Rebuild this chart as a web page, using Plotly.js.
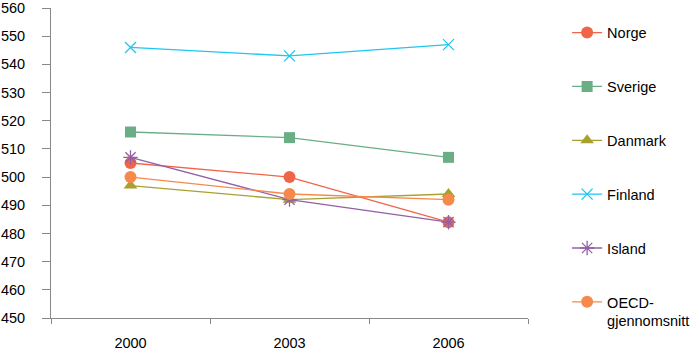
<!DOCTYPE html>
<html>
<head>
<meta charset="utf-8">
<script src="https://cdn.plot.ly/plotly-3.0.1.min.js"></script>
<style>html,body{margin:0;padding:0;background:#fff;}#chart{width:700px;height:357px;}</style>
</head>
<body>
<div id="chart"></div>
<script>
const years = ["2000", "2003", "2006"];
const seriesNames = ["Norge", "Sverige", "Danmark", "Finland", "Island", "OECD-<br>gjennomsnitt"];
const norge = [505, 500, 484];
const sverige = [516, 514, 507];
const danmark = [497, 492, 494];
const finland = [546, 543, 547];
const island = [507, 492, 484];
const oecd = [500, 494, 492];
const yTicks = [450, 460, 470, 480, 490, 500, 510, 520, 530, 540, 550, 560];

const values = [norge, sverige, danmark, finland, island, oecd];
const colors = ["#F0654A", "#6AAE86", "#A9A032", "#1EC6F2", "#945FA4", "#F6894C"];
const symbols = ["circle", "square", "triangle-up", "x-thin-open", "asterisk-open", "circle"];
const sizes = [12, 11, 12, 11, 12, 12];

const traces = values.map((v, i) => ({
  x: years,
  y: v,
  name: seriesNames[i],
  type: "scatter",
  mode: "lines+markers",
  legendgroup: "g" + i,
  line: {color: colors[i], width: 1.3},
  marker: {symbol: symbols[i], size: sizes[i], color: colors[i], line: {color: colors[i], width: (i === 3 || i === 4) ? 1.3 : 0}}
}));

const layout = {
  width: 700,
  height: 357,
  margin: {l: 51, r: 172, t: 8, b: 39, autoexpand: false},
  paper_bgcolor: "#fff",
  plot_bgcolor: "#fff",
  font: {family: "Liberation Sans, Arial, sans-serif", size: 14.5, color: "#000"},
  showlegend: true,
  legend: {x: 1.082, xanchor: "left", y: 0.972, yanchor: "top", tracegroupgap: 32, valign: "top", maxheight: 400, font: {size: 14.5}, itemwidth: 30, bgcolor: "rgba(0,0,0,0)"},
  xaxis: {
    type: "category",
    range: [-0.5, 2.5],
    tickson: "boundaries",
    ticks: "outside",
    ticklen: 5,
    tickcolor: "#888",
    showline: true,
    linecolor: "#888",
    linewidth: 1,
    showgrid: false,
    zeroline: false,
    ticklabelstandoff: 12,
    fixedrange: true
  },
  yaxis: {
    range: [450, 560],
    tickvals: yTicks,
    ticks: "outside",
    ticklen: 8,
    tickcolor: "#888",
    showline: true,
    linecolor: "#888",
    linewidth: 1,
    showgrid: false,
    zeroline: false,
    ticklabelstandoff: 14
  }
};

Plotly.newPlot("chart", traces, layout, {displayModeBar: false, staticPlot: true});
</script>
</body>
</html>
